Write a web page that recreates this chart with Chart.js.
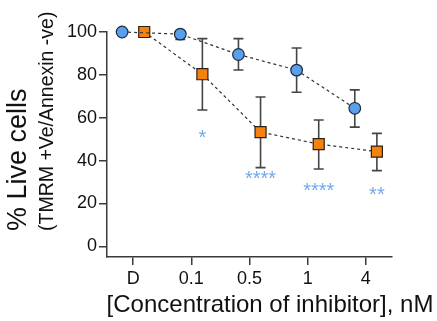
<!DOCTYPE html>
<html>
<head>
<meta charset="utf-8">
<script src="https://cdn.jsdelivr.net/npm/chart.js@4/dist/chart.umd.min.js"></script>
<style>
  html, body { margin: 0; padding: 0; background: #fff; }
  #wrap { width: 437px; height: 321px; }
</style>
</head>
<body>
<div id="wrap"><canvas id="chart"></canvas></div>
<script>
// categories on the x axis
const categories = ['D', '0.1', '0.5', '1', '4'];

// blue circles
const blueMean = [100, 99, 89.5, 82.2, 64.4];
const blueLow  = [100, 96.5, 82.3, 71.9, 55.6];
const blueHigh = [100, 100.5, 96.9, 92.5, 73];

// orange squares
const orangeMean = [100, 80.3, 53.3, 47.7, 44.2];
const orangeLow  = [100, 63.6, 36.7, 36.1, 35.3];
const orangeHigh = [100, 96.9, 69.7, 58.9, 52.7];

// significance marks under the orange points
const sigLabels = ['', '*', '****', '****', '**'];
const sigY = [null, 51.9, 32.8, 26.9, 25.3];

const yTicks = [0, 20, 40, 60, 80, 100];

const OFFSET = 0.19;
const FONT = "'Liberation Sans', Arial, Helvetica, sans-serif";
const AXIS_COLOR = '#3a3a3a';

const toPoints = (vals, shift) => vals.map((v, i) => ({ x: i + shift, y: v }));

// error bars drawn behind the markers
const errorBars = {
    id: 'errorBars',
    beforeDatasetsDraw(chart) {
        const { ctx, scales: { x, y } } = chart;
        const sets = [
            { low: blueLow, high: blueHigh, shift: -OFFSET },
            { low: orangeLow, high: orangeHigh, shift: OFFSET }
        ];
        ctx.save();
        ctx.strokeStyle = '#444';
        ctx.lineWidth = 1.6;
        sets.forEach(s => {
            s.low.forEach((lo, i) => {
                const hi = s.high[i];
                if (hi - lo < 0.5) return;
                const px = x.getPixelForValue(i + s.shift);
                const y1 = y.getPixelForValue(lo);
                const y2 = y.getPixelForValue(hi);
                ctx.beginPath();
                ctx.moveTo(px, y1); ctx.lineTo(px, y2);
                ctx.moveTo(px - 5, y1); ctx.lineTo(px + 5, y1);
                ctx.moveTo(px - 5, y2); ctx.lineTo(px + 5, y2);
                ctx.stroke();
            });
        });
        ctx.restore();
    }
};

// asterisks and axis titles
const annotations = {
    id: 'annotations',
    afterDraw(chart) {
        const { ctx, scales: { x, y } } = chart;
        ctx.save();
        ctx.fillStyle = '#72aaee';
        ctx.font = '20px ' + FONT;
        ctx.textAlign = 'center';
        ctx.textBaseline = 'middle';
        sigLabels.forEach((lab, i) => {
            if (!lab) return;
            ctx.fillText(lab, x.getPixelForValue(i + OFFSET), y.getPixelForValue(sigY[i]) + 3);
        });

        ctx.fillStyle = '#111';
        ctx.textBaseline = 'middle';
        // x title
        ctx.font = '24px ' + FONT;
        ctx.fillText('[Concentration of inhibitor], nM', 270, 305);
        // y title, rotated
        ctx.rotate(-Math.PI / 2);
        ctx.textAlign = 'left';
        ctx.font = '27px ' + FONT;
        ctx.fillText('% Live cells', -231, 19);
        ctx.font = '19.5px ' + FONT;
        ctx.fillText('(TMRM +Ve/Annexin -ve)', -231, 48);
        ctx.restore();
    }
};

new Chart(document.getElementById('chart'), {
    type: 'scatter',
    data: {
        datasets: [{
                label: 'blue',
                data: toPoints(blueMean, -OFFSET),
                showLine: true,
                borderColor: '#333',
                borderWidth: 1.2,
                borderDash: [3, 3],
                pointStyle: 'circle',
                pointRadius: 5.8,
                pointBackgroundColor: '#5a9fec',
                pointBorderColor: '#1d2b3d',
                pointBorderWidth: 1.2,
                clip: false
            },
            {
                label: 'orange',
                data: toPoints(orangeMean, OFFSET),
                showLine: true,
                borderColor: '#333',
                borderWidth: 1.2,
                borderDash: [3, 3],
                pointStyle: 'rect',
                pointRadius: 7.8,
                pointBackgroundColor: '#f5820f',
                pointBorderColor: '#2d2116',
                pointBorderWidth: 1.2,
                clip: false
            }
        ]
    },
    options: {
        responsive: true,
        maintainAspectRatio: false,
        animation: false,
        events: [],
        layout: { padding: { left: 0, top: 32, right: 45, bottom: 0 } },
        plugins: {
            legend: { display: false },
            tooltip: { enabled: false }
        },
        scales: {
            x: {
                type: 'linear',
                min: -0.45,
                max: 4.45,
                afterBuildTicks: s => { s.ticks = categories.map((c, i) => ({ value: i })); },
                afterFit: s => { s.height = 64; },
                ticks: {
                    callback: v => categories[v],
                    color: '#111',
                    font: { family: FONT, size: 18 },
                    padding: 3,
                    maxRotation: 0
                },
                grid: { drawOnChartArea: false, drawTicks: true, tickLength: 8, color: AXIS_COLOR, lineWidth: 1.5 },
                border: { display: true, color: AXIS_COLOR, width: 1.5 }
            },
            y: {
                min: -5,
                max: 100,
                afterBuildTicks: s => { s.ticks = yTicks.map(v => ({ value: v })); },
                afterFit: s => { s.width = 107; },
                ticks: {
                    color: '#111',
                    font: { family: FONT, size: 18 },
                    padding: 2
                },
                grid: { drawOnChartArea: false, drawTicks: true, tickLength: 8, color: AXIS_COLOR, lineWidth: 1.5 },
                border: { display: true, color: AXIS_COLOR, width: 1.5 }
            }
        }
    },
    plugins: [errorBars, annotations]
});
</script>
</body>
</html>
